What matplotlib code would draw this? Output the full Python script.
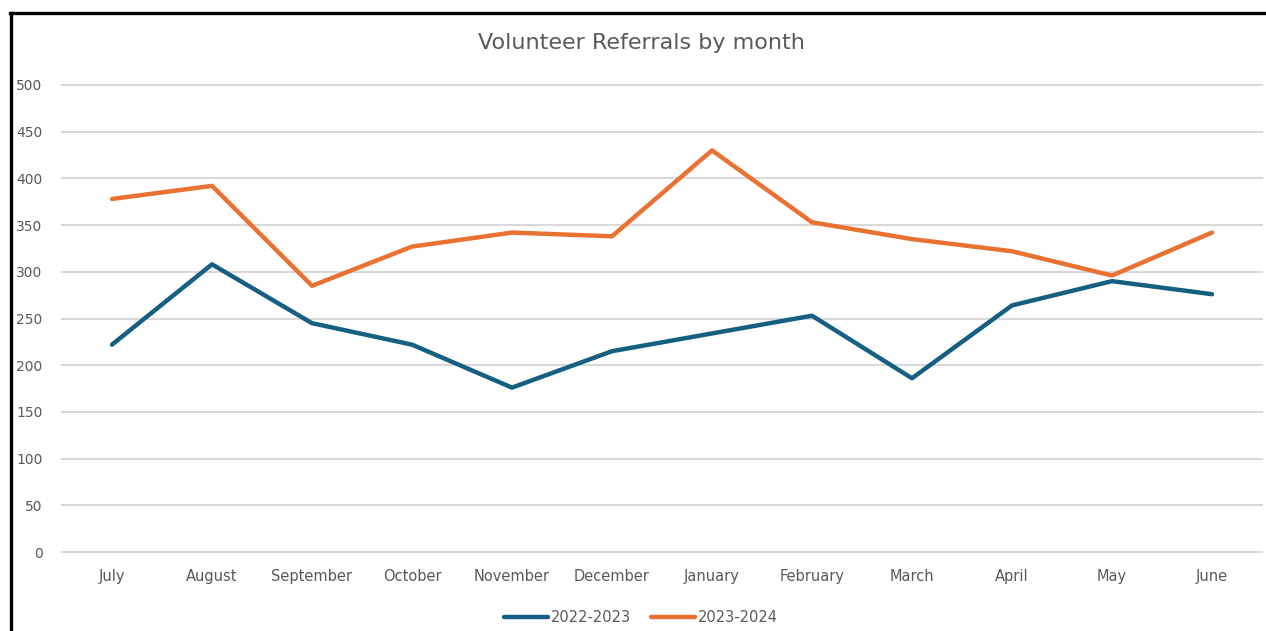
import matplotlib
matplotlib.use("Agg")
import matplotlib.pyplot as plt
from matplotlib.lines import Line2D

months = ["July", "August", "September", "October", "November", "December",
          "January", "February", "March", "April", "May", "June"]
series_2022_2023 = [222, 308, 245, 222, 176, 215, 234, 253, 186, 264, 290, 276]
series_2023_2024 = [378, 392, 285, 327, 342, 338, 430, 353, 335, 322, 296, 342]
y_ticks = [0, 50, 100, 150, 200, 250, 300, 350, 400, 450, 500]
title = "Volunteer Referrals by month"

W, H = 1266, 631
fig = plt.figure(figsize=(W / 100, H / 100), dpi=100)
fig.patch.set_facecolor("white")

left, right = 62 / W, 1262 / W
bottom, top = 1 - 552 / H, 1 - 85 / H
ax = fig.add_axes([left, bottom, right - left, top - bottom])

x = list(range(len(months)))
ax.plot(x, series_2022_2023, color="#156082", lw=3.2, label="2022-2023",
        solid_joinstyle="round", solid_capstyle="round", zorder=3)
ax.plot(x, series_2023_2024, color="#E97132", lw=3.2, label="2023-2024",
        solid_joinstyle="round", solid_capstyle="round", zorder=3)

ax.set_xlim(-0.5, len(months) - 0.5)
ax.set_ylim(0, 500)
ax.set_yticks(y_ticks)
ax.set_xticks(x)
ax.set_xticklabels(months)
for s in ax.spines.values():
    s.set_visible(False)
ax.grid(axis="y", color="#d9d9d9", lw=1.5, zorder=0)
for gl in ax.get_ygridlines():
    gl.set_clip_on(False)
ax.tick_params(axis="both", length=0, labelcolor="#595959")
ax.tick_params(axis="y", pad=14, labelsize=10)
ax.tick_params(axis="x", pad=12, labelsize=10.5)

fig.text(641 / W, 1 - 43 / H, title, ha="center", va="center",
         fontsize=16, color="#595959")

fig.legend(loc="center", bbox_to_anchor=(641 / W, 1 - 618 / H), ncol=2,
           frameon=False, fontsize=10.5, handlelength=3.0, handletextpad=0.2,
           columnspacing=1.4, labelcolor="#595959")

# black border (left and top)
fig.add_artist(Line2D([10.5 / W, 10.5 / W], [0, 1 - 12.5 / H], color="black",
                      lw=2.4, transform=fig.transFigure))
fig.add_artist(Line2D([9.5 / W, 1], [1 - 12.5 / H, 1 - 12.5 / H], color="black",
                      lw=2.4, transform=fig.transFigure))

fig.savefig("out.png", dpi=100, facecolor="white")
